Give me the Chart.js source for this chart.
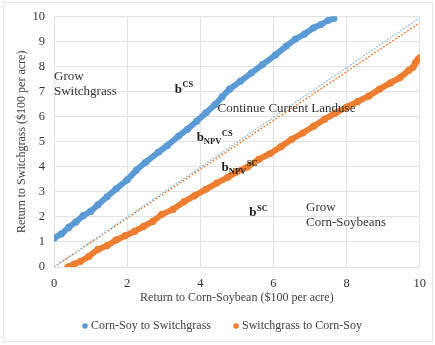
<!DOCTYPE html>
<html>
<head>
<meta charset="utf-8">
<script src="https://cdn.jsdelivr.net/npm/chart.js@4.4.1/dist/chart.umd.min.js"></script>
<style>
  html, body { margin: 0; padding: 0; background: #fff; }
  #wrap { position: relative; width: 435px; height: 345px; }
  #frame { position: absolute; left: 3px; top: 2px; width: 428px; height: 338px; border: 1px solid #e4e4e4; pointer-events: none; }
</style>
</head>
<body>
<div id="wrap">
  <canvas id="landChart" width="435" height="345"></canvas>
  <div id="frame"></div>
</div>
<script>
// 数据：玉米-大豆 -> 柳枝稷
const csX = [0, 0.2, 0.4, 0.6, 0.8, 1.0, 1.2, 1.45, 1.7, 2.0, 2.25, 2.5, 2.85, 3.1, 3.4, 3.65, 3.9, 4.15, 4.4, 4.6, 4.8, 5.1, 5.4, 5.7, 6.05, 6.35, 6.6, 6.85, 7.1, 7.3, 7.5, 7.65];
const csY = [1.15, 1.32, 1.58, 1.8, 2.05, 2.22, 2.48, 2.8, 3.12, 3.48, 3.86, 4.18, 4.58, 4.85, 5.22, 5.5, 5.82, 6.15, 6.48, 6.8, 7.1, 7.42, 7.75, 8.08, 8.46, 8.82, 9.1, 9.3, 9.55, 9.68, 9.85, 9.92];
// 柳枝稷 -> 玉米-大豆
const scX = [0.38, 0.55, 0.72, 0.95, 1.2, 1.45, 1.7, 1.95, 2.2, 2.45, 2.7, 2.95, 3.25, 3.55, 3.85, 4.15, 4.45, 4.75, 5.0, 5.3, 5.6, 5.9, 6.2, 6.5, 6.8, 7.1, 7.4, 7.7, 8.0, 8.3, 8.6, 8.9, 9.2, 9.45, 9.7, 9.82, 9.88, 9.95, 10];
const scY = [0.0, 0.12, 0.22, 0.42, 0.7, 0.85, 1.08, 1.25, 1.42, 1.62, 1.82, 2.1, 2.3, 2.6, 2.85, 3.1, 3.35, 3.58, 3.8, 4.0, 4.3, 4.52, 4.8, 5.1, 5.35, 5.62, 5.9, 6.15, 6.38, 6.6, 6.82, 7.1, 7.35, 7.55, 7.85, 7.98, 8.15, 8.28, 8.35];
// NPV 分界线（虚线）
const npvCsX = [0, 10];
const npvCsY = [0, 9.95];
const npvScX = [0, 10];
const npvScY = [0, 9.75];

const seriesLabels = ['Corn-Soy to Switchgrass', 'Switchgrass to Corn-Soy'];
const xTicks = [0, 2, 4, 6, 8, 10];
const yTicks = [0, 1, 2, 3, 4, 5, 6, 7, 8, 9, 10];

// 图中文字标注（数据坐标）
const notes = [
    { text: 'Grow', x: 0.0, y: 7.62 },
    { text: 'Switchgrass', x: 0.0, y: 7.02 },
    { text: 'Continue Current Landuse', x: 4.47, y: 6.31 },
    { text: 'Grow', x: 6.89, y: 2.38 },
    { text: 'Corn-Soybeans', x: 6.89, y: 1.79 }
];
const bLabels = [
    { sub: '', sup: 'CS', x: 3.3, y: 7.1 },
    { sub: 'NPV', sup: 'CS', x: 3.9, y: 5.16 },
    { sub: 'NPV', sup: 'SC', x: 4.58, y: 3.97 },
    { sub: '', sup: 'SC', x: 5.34, y: 2.18 }
];

const BLUE = '#5B9BD5';
const ORANGE = '#ED7D31';
const SERIF = '"Liberation Serif", "DejaVu Serif", serif';

function pts(xs, ys) {
    return xs.map((x, i) => ({ x: x, y: ys[i] }));
}

const annotate = {
    id: 'annotate',
    afterDatasetsDraw(chart) {
        const c = chart.ctx;
        const xs = chart.scales.x, ys = chart.scales.y;
        c.save();
        c.textBaseline = 'middle';
        c.textAlign = 'left';
        c.fillStyle = '#333';
        c.font = '13px ' + SERIF;
        notes.forEach(n => c.fillText(n.text, xs.getPixelForValue(n.x), ys.getPixelForValue(n.y)));
        c.fillStyle = '#1a1a1a';
        bLabels.forEach(b => {
            let px = xs.getPixelForValue(b.x);
            const py = ys.getPixelForValue(b.y);
            c.font = 'bold 13px ' + SERIF;
            c.fillText('b', px, py);
            px += c.measureText('b').width;
            let supX = px;
            if (b.sub) {
                c.font = 'bold 8.5px ' + SERIF;
                c.fillText(b.sub, px, py + 4);
                supX = px + c.measureText(b.sub).width;
            }
            c.font = 'bold 8.5px ' + SERIF;
            c.fillText(b.sup, supX + 0.5, py - 4);
        });
        c.restore();
    },
    afterDraw(chart) {
        // 图例
        const c = chart.ctx;
        const items = [
            { label: seriesLabels[0], color: BLUE, x: 85 },
            { label: seriesLabels[1], color: ORANGE, x: 236 }
        ];
        c.save();
        c.textBaseline = 'middle';
        c.textAlign = 'left';
        c.font = '12px ' + SERIF;
        items.forEach(it => {
            c.fillStyle = it.color;
            c.beginPath();
            c.arc(it.x, 326, 2.8, 0, Math.PI * 2);
            c.fill();
            c.fillStyle = '#404040';
            c.fillText(it.label, it.x + 6, 326);
        });
        c.restore();
    }
};

const ctx = document.getElementById('landChart').getContext('2d');
const landChart = new Chart(ctx, {
    type: 'scatter',
    data: {
        datasets: [
            {
                label: 'NPV CS',
                data: pts(npvCsX, npvCsY),
                showLine: true,
                borderColor: '#9DC3E6',
                borderWidth: 1.6,
                borderDash: [1.6, 1.6],
                pointRadius: 0
            },
            {
                label: 'NPV SC',
                data: pts(npvScX, npvScY),
                showLine: true,
                borderColor: ORANGE,
                borderWidth: 1.6,
                borderDash: [1.6, 2],
                pointRadius: 0
            },
            {
                label: seriesLabels[0],
                data: pts(csX, csY),
                showLine: true,
                borderColor: BLUE,
                backgroundColor: BLUE,
                borderWidth: 6,
                borderJoinStyle: 'round',
                borderCapStyle: 'round',
                pointRadius: 3.6,
                pointBorderWidth: 0
            },
            {
                label: seriesLabels[1],
                data: pts(scX, scY),
                showLine: true,
                borderColor: ORANGE,
                backgroundColor: ORANGE,
                borderWidth: 6,
                borderJoinStyle: 'round',
                borderCapStyle: 'round',
                pointRadius: 3.6,
                pointBorderWidth: 0
            }
        ]
    },
    options: {
        responsive: false,
        animation: false,
        layout: { padding: { left: 0, right: 13, top: 15, bottom: 0 } },
        plugins: {
            legend: { display: false },
            tooltip: { enabled: false }
        },
        scales: {
            x: {
                type: 'linear',
                min: 0,
                max: 10,
                afterBuildTicks: (s) => { s.ticks = xTicks.map(v => ({ value: v })); },
                afterFit: (s) => { s.height = 78; },
                grid: { color: '#e3e3e3', drawTicks: false },
                border: { display: false },
                ticks: { color: '#333', padding: 9, font: { family: SERIF, size: 12.5 } },
                title: {
                    display: true,
                    text: 'Return to Corn-Soybean ($100 per acre)',
                    color: '#404040',
                    font: { family: SERIF, size: 12 },
                    padding: { top: 0, bottom: 40 }
                }
            },
            y: {
                min: 0,
                max: 10,
                afterBuildTicks: (s) => { s.ticks = yTicks.map(v => ({ value: v })); },
                afterFit: (s) => { s.width = 54; },
                grid: { color: '#e3e3e3', drawTicks: false },
                border: { display: false },
                ticks: { color: '#333', padding: 9, font: { family: SERIF, size: 12.5 } },
                title: {
                    display: true,
                    text: 'Return to Switchgrass ($100 per acre)',
                    color: '#404040',
                    font: { family: SERIF, size: 12 },
                    padding: { top: 15, bottom: 0 }
                }
            }
        }
    },
    plugins: [annotate]
});
</script>
</body>
</html>
